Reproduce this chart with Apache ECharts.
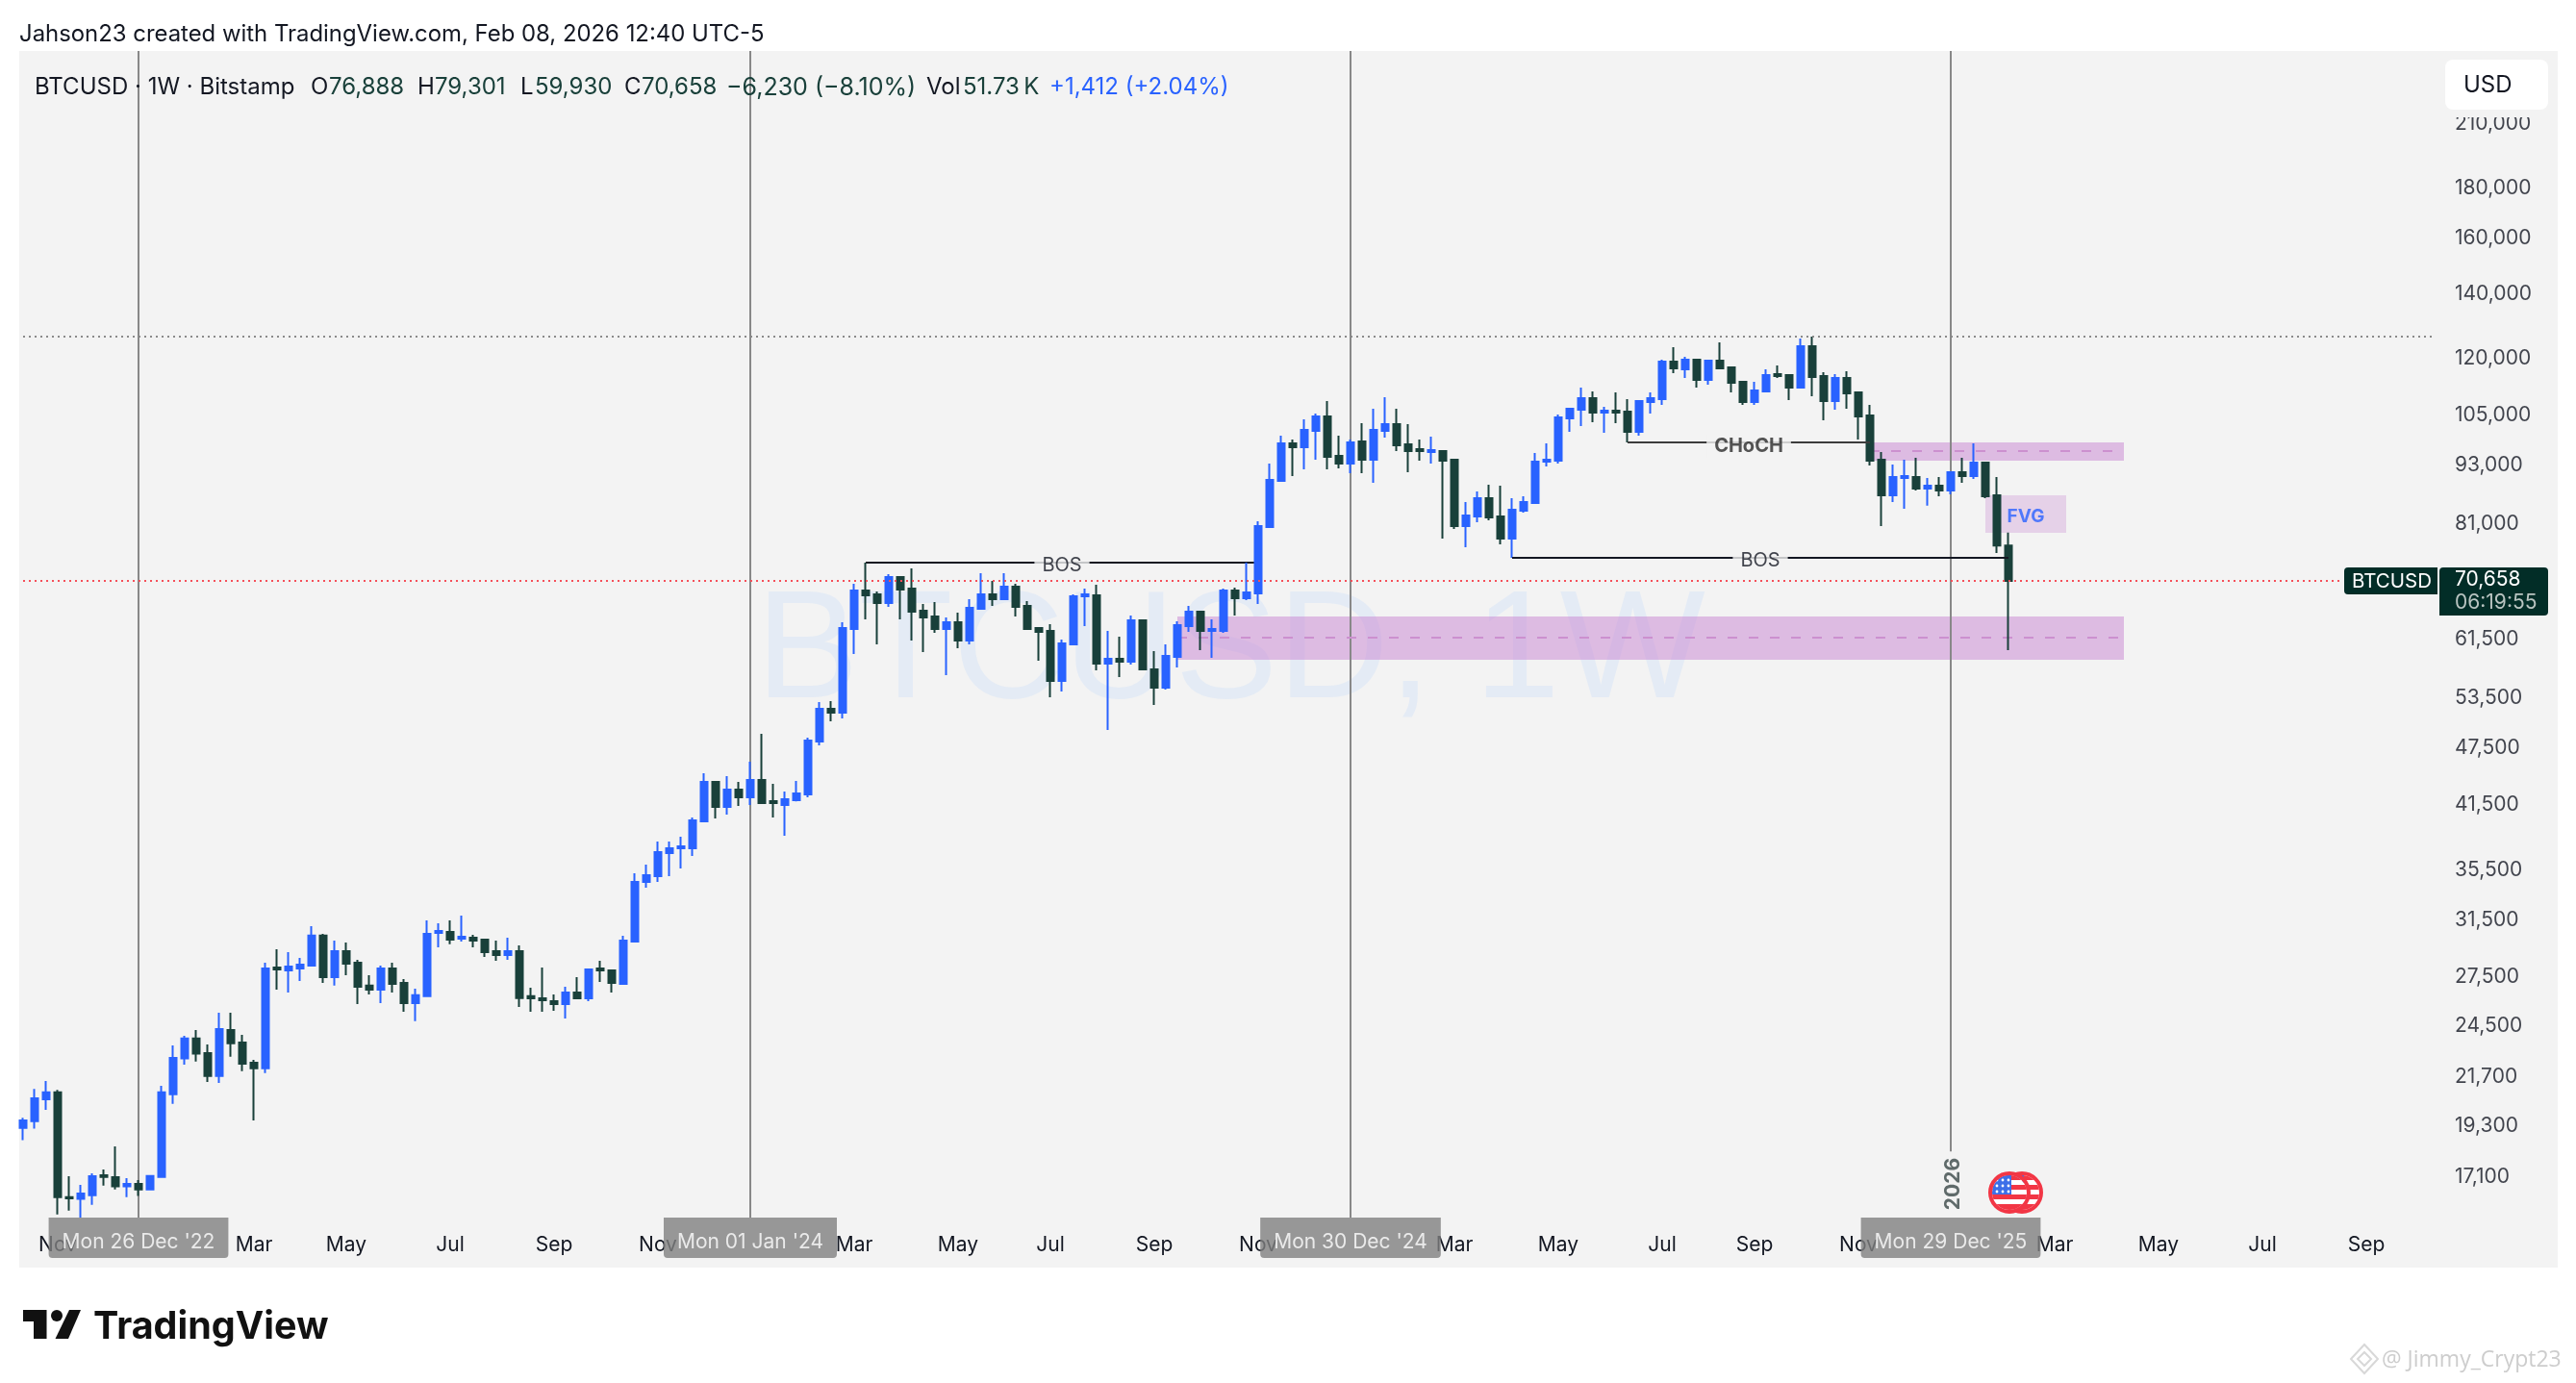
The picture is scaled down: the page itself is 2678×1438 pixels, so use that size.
<!DOCTYPE html>
<html><head><meta charset="utf-8">
<style>html,body{margin:0;padding:0;background:#fff}#c{width:2678px;height:1438px}</style>
<script src="https://cdn.jsdelivr.net/npm/echarts@6/dist/echarts.min.js"></script>
</head><body><div id="c"></div>
<script>
// ---------- data ----------
const opens=[19200,19510,20550,20890,16280,16210,16355,17150,17070,16700,16800,16580,17080,20800,22650,23750,22940,21730,24240,23530,22420,22130,28130,27940,28070,28260,30350,27500,29250,28460,26940,26690,28070,27120,25850,26270,30550,30620,30140,30210,30070,29250,28985,29250,26270,26145,25970,25790,26510,26145,28070,27940,27060,29930,34500,34970,36950,37370,37370,39850,43780,41240,42980,42200,43980,41815,41430,41910,42490,48200,52100,51630,63020,69070,68440,67040,71320,69390,65830,64930,63020,64040,61310,66130,68440,67660,69710,66580,63170,62730,55680,60750,68130,68280,58030,58700,58300,64330,57240,54800,58970,63460,65680,62730,62730,69070,67820,68600,80350,89690,98080,97180,101050,104580,95200,93470,98530,94330,101050,102680,97860,96740,96080,96300,94330,80540,82400,86070,82400,78170,83540,85090,93900,94120,104100,106270,109240,105540,106020,105780,100810,108240,108970,119170,117000,119720,114100,119440,117530,113570,108240,111000,115670,115410,112020,123620,115140,108480,114620,110740,104820,94330,86670,90310,90520,88070,88670,87660,91560,90730,93690,86670,76888];
const highs=[19670,21060,21470,21020,17110,16760,17230,17390,18370,17030,16955,17160,21220,23370,23910,24240,23420,25260,25260,23965,22580,28460,29390,29185,28790,31050,30480,30000,29860,28650,27620,28260,28460,27370,26750,31480,31260,31480,31840,30410,30080,30000,30210,29660,26810,28135,26390,26870,27500,28070,28590,28005,30345,35220,35950,37980,37980,38415,40220,44690,43800,44380,43780,45930,49090,43580,42780,43880,48640,52950,53070,64040,70190,73820,68910,71820,71400,72810,66890,67200,64780,65530,67660,71980,70670,71980,70190,67350,63310,63750,61450,68440,69390,70030,62730,61880,65080,64480,59790,60750,64190,66580,65700,64480,69390,69550,73820,81460,93470,99890,98980,103860,105300,108480,99890,98980,102910,106510,109480,106510,102680,98980,99660,96520,94550,85280,87460,88880,88670,86070,86470,95860,98080,105060,106760,112020,111000,107000,110740,108970,108720,110740,119720,123340,120540,119990,119500,124750,117800,113830,113570,117000,118080,115670,125910,126490,116200,115670,116470,110800,107500,96080,93260,94330,94760,90310,90520,91770,94760,98080,93700,90520,79301];
const lows=[18640,19160,20040,15620,15760,15500,15985,16730,16580,16280,16320,16540,17060,20330,22320,22480,21420,21370,22740,21970,19540,21870,26690,26510,27250,28200,27120,26940,27620,25790,26390,25850,26510,25320,24750,26250,29520,29730,29930,29520,28850,28590,28650,25610,25320,25320,25380,24920,26130,25970,27180,26510,27050,29860,34030,34490,34970,35620,36700,39800,40120,40490,41340,41430,41530,40220,38500,41800,42200,47760,50580,50920,59375,64480,60750,66430,64480,61310,59650,62440,56460,60200,60750,66100,66580,67600,64930,62990,58430,53560,54300,60700,63450,57110,49540,56200,57900,57200,52580,54550,57500,62590,59920,58830,62440,65080,67510,66890,80200,89490,90730,92190,94330,92190,92410,91360,91360,89290,99440,96300,91560,94110,93470,78170,79980,76570,81280,81650,77100,74670,83160,85000,92830,93470,100810,102210,103150,100580,102910,98300,99890,105300,107500,115940,114620,112020,112790,117000,110740,107500,107500,110740,114620,108720,111760,109740,103630,106270,106510,98980,93040,80540,85280,83930,87660,84530,86470,86870,89290,90100,86070,75530,59930];
const closes=[19540,20600,20890,16280,16230,16420,17110,17080,16700,16800,16580,17120,20890,22680,23750,22910,21730,24300,23480,22370,22130,28070,28000,28200,28330,30350,27500,29250,28390,26870,26690,28070,27060,25850,26330,30480,30690,30070,30275,30000,29185,28985,29250,26150,26145,26026,25790,26510,26145,28005,27940,27120,30000,34500,35060,37030,37370,37545,39940,43780,41240,42980,42200,43980,41620,41620,42010,42590,48310,52100,51630,63170,69070,68280,67040,71320,69230,65680,64780,63020,64040,61310,66280,68440,67660,69710,66430,63020,62590,55680,60890,68130,68440,58030,58700,58300,64330,57240,54800,59100,63600,65680,62730,63020,69070,67820,68760,80540,89900,98080,97180,101280,104580,94980,93470,98300,94330,101280,102680,97630,96300,96300,96520,94110,80540,82590,86070,82220,78170,83740,85280,93900,94330,104340,106510,109240,105540,106020,105540,100810,108480,109240,119170,117270,119720,114100,119440,117270,113310,108240,111250,115410,115140,112020,123620,114880,108480,114620,110490,104580,94120,86670,90520,90730,88070,88670,87660,91560,90730,93690,86470,76890,70658];
const priceTicks=[210000,180000,160000,140000,120000,105000,93000,81000,61500,53500,47500,41500,35500,31500,27500,24500,21700,19300,17100];
const monthTicks=[[3,'Nov'],[20,'Mar'],[28,'May'],[37,'Jul'],[46,'Sep'],[55,'Nov'],[72,'Mar'],[81,'May'],[89,'Jul'],[98,'Sep'],[107,'Nov'],[124,'Mar'],[133,'May'],[142,'Jul'],[150,'Sep'],[159,'Nov'],[176,'Mar'],[185,'May'],[194,'Jul'],[203,'Sep']];
const dateMarks=[[10,"Mon 26 Dec '22"],[63,"Mon 01 Jan '24"],[115,"Mon 30 Dec '24"],[167,"Mon 29 Dec '25"]];
const lastPrice=70658, athPrice=126490;
const zoneLow=[100,182,58575,64920,61740], zoneHigh=[160,182,94100,98300,96280], zoneFvg=[170,177,79260,86650];
const bos1=[73,107,73820], bos2=[129,172,74670], choch=[139,160,98300];

// ---------- axis set-up ----------
const WEEKS=220, CLR_UP='#2962ff', CLR_DN='#19403a', PANEL='#f3f3f3', FONT='Inter, "Liberation Sans", sans-serif';
const weeks=[]; for(let i=0;i<WEEKS;i++){weeks.push(new Date(Date.UTC(2022,9,17)+i*7*864e5).toISOString().slice(0,10));}
const monthMap=new Map(monthTicks);
// price scale calibration of the picture: 70,658 on row 604, 436.4 px per e-fold
const GT=53, GB=1266, yMax=180000*Math.exp((196-GT)/436.4), yMin=180000*Math.exp((196-GB)/436.4);

const candle=opens.map((o,i)=>[o,closes[i],lows[i],highs[i]]);
const X=i=>weeks[i];
const seg=(a,b,p)=>[{xAxis:X(a),yAxis:p},{xAxis:X(b),yAxis:p}];
const ln=(color,width,type)=>({color,width,type,opacity:1});

const flagSvg='<svg xmlns="http://www.w3.org/2000/svg" width="44" height="44" viewBox="0 0 44 44"><defs><clipPath id="k"><circle cx="22" cy="22" r="18"/></clipPath></defs><g clip-path="url(#k)"><rect width="44" height="44" fill="#fff"/><rect y="4" width="44" height="5" fill="#f23645"/><rect y="14" width="44" height="5" fill="#f23645"/><rect y="24" width="44" height="5" fill="#f23645"/><rect y="34" width="44" height="6" fill="#f23645"/><rect x="2" y="2" width="22" height="22" fill="#3d6fe8"/><g fill="#fff"><circle cx="9" cy="9" r="1.4"/><circle cx="15" cy="9" r="1.4"/><circle cx="21" cy="9" r="1.4"/><circle cx="9" cy="15" r="1.4"/><circle cx="15" cy="15" r="1.4"/><circle cx="21" cy="15" r="1.4"/><circle cx="9" cy="21" r="1.4"/><circle cx="15" cy="21" r="1.4"/><circle cx="21" cy="21" r="1.4"/></g></g><circle cx="22" cy="22" r="20" fill="none" stroke="#f23645" stroke-width="4"/></svg>';
const flagUrl='data:image/svg+xml;charset=utf-8,'+encodeURIComponent(flagSvg);

function txt(x,y,text,size,fill,extra){return Object.assign({type:'text',x,y,z:100,style:{text,fontSize:size,fontFamily:FONT,fill,verticalAlign:'middle',align:'left'}},extra||{});}
const INK='#131722';
const legend=[[36,'BTCUSD · 1W · Bitstamp',INK,24],[323,'O',INK,24],[342,'76,888',CLR_DN,24],[434,'H',INK,24],[452,'79,301',CLR_DN,24],[541,'L',INK,24],[556,'59,930',CLR_DN,24],[649,'C',INK,24],[667,'70,658',CLR_DN,24],[755,'−6,230 (−8.10%)',CLR_DN,25],[963,'Vol',INK,24],[1001,'51.73\u2009K',CLR_DN,24],[1091,'+1,412 (+2.04%)',CLR_UP,24]];

const graphics=[
 {type:'rect',z:-20,shape:{x:20,y:53,width:2639,height:1265},style:{fill:PANEL}},
 {type:'text',x:786,y:681,z:-10,style:{text:'BTCUSD, 1W',fontSize:160,fontFamily:'"Liberation Sans"',fill:'#e4ebf5',verticalAlign:'middle',align:'left'}},
 txt(20,36,'Jahson23 created with TradingView.com, Feb 08, 2026 12:40 UTC-5',23.9,INK),
 ...legend.map(l=>txt(l[0],91,l[1],l[3],l[2])),
 {type:'rect',z:90,shape:{x:2545,y:114,width:104,height:8},style:{fill:PANEL}},
 {type:'rect',z:100,shape:{x:2542,y:62,width:107,height:52,r:8},style:{fill:'#fff'}},
 txt(2561,89,'USD',24,INK),
 {type:'rect',z:100,shape:{x:2437,y:590,width:97,height:28,r:[4,0,0,4]},style:{fill:'#022d27'}},
 {type:'rect',z:100,shape:{x:2536,y:590,width:113,height:50,r:[4,4,4,0]},style:{fill:'#022d27'}},
 txt(2445,605,'BTCUSD',20.5,'#ffffff',{z:101}),
 txt(2552,603,'70,658',21,'#ffffff',{z:101}),
 txt(2552,627,'06:19:55',21,'#b9c4c1',{z:101}),
 {type:'image',z:60,style:{image:flagUrl,x:2080,y:1218,width:44,height:44}},
 {type:'image',z:61,style:{image:flagUrl,x:2067,y:1218,width:44,height:44}},
 {type:'text',x:2031,y:1231,rotation:Math.PI/2,z:60,style:{text:'2026',fontSize:21,fontWeight:700,fontFamily:FONT,fill:'#5f6a6a',verticalAlign:'middle',align:'center'}},
 {type:'polygon',z:100,shape:{points:[[24,1362],[48.5,1362],[48.5,1392],[35,1392],[35,1374],[24,1374]]},style:{fill:'#111'}},
 {type:'circle',z:100,shape:{cx:59,cy:1368,r:6},style:{fill:'#111'}},
 {type:'polygon',z:100,shape:{points:[[72,1362],[84,1362],[71,1392],[57.5,1392]]},style:{fill:'#111'}},
 {type:'text',x:97,y:1380,z:100,style:{text:'TradingView',fontSize:39.5,fontWeight:700,fontFamily:FONT,fill:'#111',verticalAlign:'middle',align:'left'}},
 {type:'polygon',z:100,shape:{points:[[2458,1398],[2472,1413],[2458,1428],[2444,1413]]},style:{fill:'none',stroke:'#d8d8d8',lineWidth:2}},
 {type:'polygon',z:100,shape:{points:[[2458,1406],[2465,1413],[2458,1420],[2451,1413]]},style:{fill:'none',stroke:'#d8d8d8',lineWidth:2}},
 {type:'text',x:2476,y:1414,z:100,style:{text:'@ Jimmy_Crypt23',fontSize:23,fontFamily:'"Open Sans"',fill:'#cdcdcd',verticalAlign:'middle',align:'left'}}
];

const note=(i,p,text,opt)=>({value:[X(i),p],name:text,label:Object.assign({show:true,position:'inside',align:'center',verticalAlign:'middle',fontFamily:FONT,formatter:'{b}'},opt)});

const option={
 animation:false,
 backgroundColor:'#ffffff',
 graphic:{elements:graphics},
 grid:{left:18,top:GT,width:WEEKS*12,height:GB-GT,containLabel:false},
 xAxis:{type:'category',data:weeks,boundaryGap:true,axisLine:{show:false},axisTick:{show:false},splitLine:{show:false},
  axisLabel:{interval:(i)=>monthMap.has(i),formatter:(v,i)=>monthMap.get(i)||'',color:INK,fontSize:21,fontFamily:FONT,margin:29,verticalAlign:'middle',hideOverlap:false}},
 yAxis:{type:'log',logBase:10,min:yMin,max:yMax,show:false,splitLine:{show:false},axisLine:{show:false}},
 series:[
  {name:'behind',type:'line',data:[],z:1,silent:true,
   markArea:{silent:true,z:1,itemStyle:{color:'rgba(199,131,209,0.5)',borderWidth:0},
    data:[
     [{xAxis:X(zoneLow[0]),yAxis:zoneLow[3]},{xAxis:X(zoneLow[1]),yAxis:zoneLow[2]}],
     [{xAxis:X(zoneHigh[0]),yAxis:zoneHigh[3]},{xAxis:X(zoneHigh[1]),yAxis:zoneHigh[2]}],
     [{xAxis:X(zoneFvg[0]),yAxis:zoneFvg[3],itemStyle:{color:'rgba(199,131,209,0.3)'}},{xAxis:X(zoneFvg[1]),yAxis:zoneFvg[2]}]
    ]},
   markLine:{silent:true,z:1,symbol:'none',label:{show:false},animation:false,
    data:[
     ...dateMarks.map(d=>d[0]===167
       ?[{xAxis:X(d[0]),yAxis:yMax,lineStyle:ln('#888888',2,'solid')},{xAxis:X(d[0]),yAxis:18150}]
       :[{xAxis:X(d[0]),yAxis:yMax,lineStyle:ln('#888888',2,'solid')},{xAxis:X(d[0]),yAxis:yMin}]),
     (()=>{const s=seg(zoneLow[0],zoneLow[1],zoneLow[4]);s[0].lineStyle=ln('#cc90cf',2,[10,12]);return s;})(),
     (()=>{const s=seg(zoneHigh[0],zoneHigh[1],zoneHigh[4]);s[0].lineStyle=ln('#cc90cf',2,[10,12]);return s;})(),
     (()=>{const s=seg(bos1[0],bos1[1],bos1[2]);s[0].lineStyle=ln('#131722',2,'solid');return s;})()
    ]}
  },
  {name:'BTCUSD',type:'candlestick',z:2,barWidth:8,silent:true,clip:true,data:candle,
   itemStyle:{color:CLR_UP,color0:CLR_DN,borderColor:CLR_UP,borderColor0:CLR_DN,borderWidth:2}},
  {name:'front',type:'line',data:[],z:5,silent:true,
   markLine:{silent:true,z:5,symbol:'none',label:{show:false},animation:false,
    data:[
     (()=>{const s=seg(0,201,lastPrice);s[0].lineStyle=ln('#f5505a',2,[2,4]);return s;})(),
     (()=>{const s=seg(0,209,athPrice);s[0].lineStyle=ln('#8a8a8a',2,[2,4]);return s;})(),
     (()=>{const s=seg(bos2[0],bos2[1],bos2[2]);s[0].lineStyle=ln('#131722',2,'solid');return s;})(),
     (()=>{const s=seg(choch[0],choch[1],choch[2]);s[0].lineStyle=ln('#3c3c3c',2,'solid');return s;})()
    ]}
  },
  {name:'notes',type:'scatter',z:10,symbolSize:0,silent:true,clip:false,
   data:[
    note(90,bos1[2],'BOS',{fontSize:20,color:INK,backgroundColor:PANEL,padding:[2,8],offset:[0,3]}),
    note(150,bos2[2],'BOS',{fontSize:20,color:INK,backgroundColor:PANEL,padding:[2,8],offset:[6,3]}),
    note(149,choch[2],'CHoCH',{fontSize:20,fontWeight:700,color:'#2a2a2a',backgroundColor:PANEL,padding:[2,8],offset:[6,4]}),
    note(173,83000,'FVG',{fontSize:19,fontWeight:700,color:CLR_UP,offset:[6,3]})
   ]},
  {name:'priceScale',type:'scatter',z:10,symbolSize:0,silent:true,clip:false,
   label:{show:true,position:'right',distance:8,formatter:'{b}',color:INK,fontSize:21,fontFamily:FONT},
   data:priceTicks.map(p=>({value:[X(210),p],name:p.toLocaleString('en-US')}))},
  {name:'dateTags',type:'scatter',z:20,symbolSize:0,silent:true,clip:false,
   label:{show:true,position:'bottom',distance:0,formatter:'{b}',color:'#ffffff',fontSize:21,fontFamily:FONT,backgroundColor:'#808080',padding:[15,14,6,14],lineHeight:21,borderRadius:[0,0,4,4]},
   data:dateMarks.map(d=>({value:[X(d[0]),yMin],name:d[1]}))}
 ]
};
const chart=echarts.init(document.getElementById('c'),null,{renderer:'canvas',width:2678,height:1438});
chart.setOption(option);
</script></body></html>
